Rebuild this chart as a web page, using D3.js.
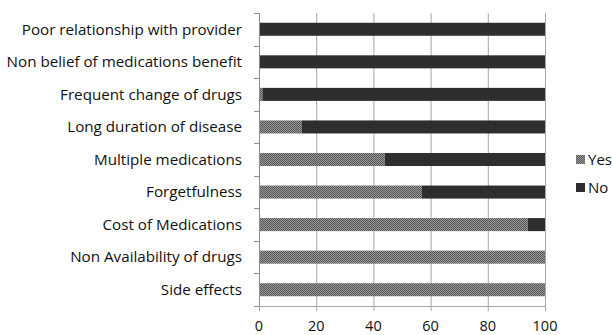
<!DOCTYPE html>
<html><head><meta charset="utf-8">
<script src="https://cdn.jsdelivr.net/npm/d3@7"></script>
<style>body{margin:0;background:#fff}</style>
</head><body>
<svg id="c" width="612" height="335"></svg>
<script>
const categories = ["Poor relationship with provider","Non belief of medications benefit","Frequent change of drugs","Long duration of disease","Multiple medications","Forgetfulness","Cost of Medications","Non Availability of drugs","Side effects"];
const yesValues = [0, 0, 1.2, 15, 44, 57, 94, 100, 100];
const noValues = [100, 100, 98.8, 85, 56, 43, 6, 0, 0];
const xTicks = [0, 20, 40, 60, 80, 100];
const seriesNames = ["Yes", "No"];

(function(){
const svg = d3.select("#c");
const font = "'Open Sans', sans-serif";
const pL = 259, pR = 545, pT = 13, pB = 306;
const x = d3.scaleLinear().domain([0, 100]).range([pL, pR]);
const y = d3.scaleBand().domain(categories).range([pT, pB]).paddingInner(0.6).paddingOuter(0.3);

const defs = svg.append("defs");
const pat = defs.append("pattern").attr("id","chk").attr("width",2).attr("height",2).attr("patternUnits","userSpaceOnUse");
pat.append("rect").attr("width",2).attr("height",2).attr("fill","#9a9a9a");
pat.append("rect").attr("width",1).attr("height",1).attr("fill","#555");
pat.append("rect").attr("x",1).attr("y",1).attr("width",1).attr("height",1).attr("fill","#555");

svg.append("g").selectAll("line").data(xTicks.slice(1)).join("line")
  .attr("x1", d=>x(d)+0.5).attr("x2", d=>x(d)+0.5).attr("y1", pT).attr("y2", pB+5)
  .attr("stroke","#a6a6a6").attr("stroke-width",1);
svg.append("line").attr("x1",pL+0.5).attr("x2",pL+0.5).attr("y1",pB).attr("y2",pB+5).attr("stroke","#a6a6a6");
svg.append("line").attr("x1",pL).attr("x2",pR+0.5).attr("y1",pB+0.5).attr("y2",pB+0.5).attr("stroke","#a6a6a6");

const colors = {Yes: "url(#chk)", No: "#2e2e2e"};
const stackData = categories.map((c,i)=>({cat:c, Yes:yesValues[i], No:noValues[i]}));
const stack = d3.stack().keys(seriesNames)(stackData);
svg.append("g").selectAll("g").data(stack).join("g").attr("fill", d=>colors[d.key])
  .selectAll("rect").data(d=>d).join("rect")
  .attr("x", d=>x(d[0])).attr("width", d=>Math.max(0, x(d[1])-x(d[0])))
  .attr("y", d=>y(d.data.cat)).attr("height", y.bandwidth());

const step = (pB - pT) / categories.length;
svg.append("line").attr("x1",pL+0.5).attr("x2",pL+0.5).attr("y1",pT).attr("y2",pB).attr("stroke","#8c8c8c");
svg.append("g").selectAll("line").data(d3.range(categories.length+1)).join("line")
  .attr("x1",pL-5).attr("x2",pL).attr("y1",i=>Math.round(pT+i*step)+0.5).attr("y2",i=>Math.round(pT+i*step)+0.5)
  .attr("stroke","#8c8c8c");

svg.append("g").selectAll("text").data(categories).join("text")
  .attr("x", 242).attr("y", d=>y(d)+y.bandwidth()/2).attr("dy","0.35em")
  .attr("text-anchor","end").attr("font-family",font).attr("font-size",15.2).attr("fill","#111")
  .text(d=>d);

svg.append("g").selectAll("text").data(xTicks).join("text")
  .attr("x", d=>x(d)).attr("y", 331).attr("text-anchor","middle")
  .attr("font-family",font).attr("font-size",14.5).attr("fill","#111").text(d=>d);

const lg = svg.append("g").selectAll("g").data(seriesNames).join("g")
  .attr("transform",(d,i)=>`translate(576,${155+i*28})`);
lg.append("rect").attr("width",9).attr("height",9).attr("fill",d=>colors[d]);
lg.append("text").attr("x",12).attr("y",9.5).attr("font-family",font).attr("font-size",15).attr("fill","#111").text(d=>d);
})();
</script>
</body></html>
